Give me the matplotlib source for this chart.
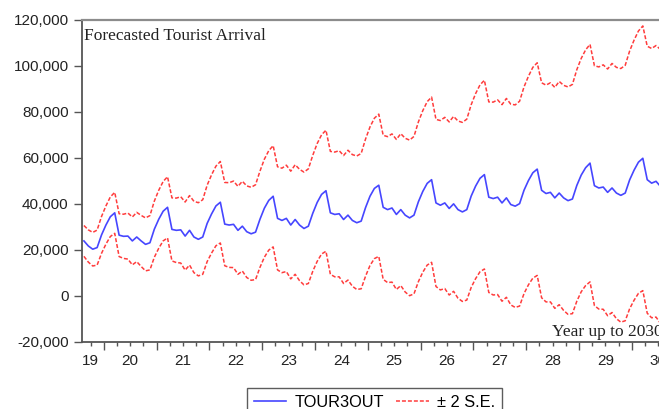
import matplotlib
matplotlib.use("Agg")
import matplotlib.pyplot as plt
from matplotlib.ticker import FuncFormatter, FixedLocator
import numpy as np
import pandas as pd

# Monthly forecast of tourist arrivals (thousands), 2019M08 - 2030M08
tour3out = [
    23.8, 21.6, 20.2, 20.9, 26.4,
    30.7, 34.3, 36.0, 26.3, 25.8, 25.9, 23.8, 25.5, 23.8, 22.3, 23.0, 28.9,
    33.2, 36.7, 38.4, 28.8, 28.4, 28.6, 25.9, 28.4, 25.5, 24.5, 25.5, 31.4,
    35.5, 39.0, 40.6, 31.1, 30.7, 31.0, 28.4, 30.2, 27.8, 26.9, 27.6, 33.2,
    38.0, 41.4, 43.2, 33.6, 32.7, 33.6, 30.7, 33.1, 30.7, 29.2, 30.2, 35.8,
    40.5, 44.0, 45.6, 36.0, 35.3, 35.6, 33.1, 35.0, 32.7, 31.7, 32.4, 38.3,
    43.2, 46.6, 48.0, 38.4, 37.4, 38.1, 35.3, 37.4, 35.0, 33.8, 35.0, 40.8,
    45.3, 48.8, 50.4, 40.3, 39.3, 40.3, 37.9, 39.9, 37.4, 36.4, 37.4, 43.3,
    47.6, 51.0, 52.6, 42.8, 42.2, 42.8, 40.3, 42.5, 39.6, 38.9, 40.0, 45.8,
    50.0, 53.4, 55.0, 45.8, 44.4, 44.9, 42.5, 44.6, 42.5, 41.3, 42.0, 47.9,
    52.4, 55.6, 57.6, 47.8, 46.8, 47.2, 44.9, 46.8, 44.6, 43.6, 44.6, 50.3,
    54.5, 58.0, 59.7, 50.4, 48.9, 49.7, 47.5, 49.2,
]

# two standard errors of the forecast (thousands)
two_se = [
    6.7, 7.0, 7.3, 7.6, 8.0,
    8.3, 8.6, 8.9, 9.3, 9.6, 10.0, 10.4, 10.7, 11.1, 11.5, 11.8, 12.2,
    12.6, 12.9, 13.3, 13.7, 14.0, 14.4, 14.8, 15.1, 15.5, 15.9, 16.2, 16.6,
    17.0, 17.3, 17.7, 18.1, 18.4, 18.8, 19.1, 19.5, 19.9, 20.2, 20.6, 20.9,
    21.3, 21.6, 22.0, 22.4, 22.7, 23.1, 23.4, 23.8, 24.2, 24.5, 24.9, 25.2,
    25.6, 25.9, 26.3, 26.7, 27.1, 27.4, 27.8, 28.2, 28.6, 29.0, 29.4, 29.8,
    30.1, 30.5, 30.9, 31.3, 31.7, 32.2, 32.6, 33.0, 33.4, 33.8, 34.2, 34.7,
    35.1, 35.5, 35.9, 36.3, 36.8, 37.2, 37.6, 38.0, 38.5, 38.9, 39.3, 39.7,
    40.2, 40.6, 41.0, 41.4, 41.9, 42.3, 42.7, 43.2, 43.6, 44.0, 44.5, 44.9,
    45.3, 45.8, 46.2, 46.7, 47.1, 47.6, 48.0, 48.5, 48.9, 49.4, 49.8, 50.3,
    50.7, 51.2, 51.6, 52.1, 52.6, 53.1, 53.6, 54.1, 54.6, 55.1, 55.5, 56.0,
    56.5, 57.0, 57.5, 58.0, 58.5, 59.0, 59.5, 60.0,
]

year_labels = ["19", "20", "21", "22", "23", "24", "25", "26", "27", "28", "29", "30"]

periods = pd.period_range("2019-08", periods=len(tour3out), freq="M")
t = periods.year + (periods.month - 0.5) / 12.0
fc = np.array(tour3out) * 1000
se = np.array(two_se) * 1000

plt.rcParams["font.family"] = ["Liberation Sans", "DejaVu Sans"]

fig = plt.figure(figsize=(6.59, 4.09), dpi=100)
ax = fig.add_axes([0.124, 0.1645, 0.9149, 0.7878])

blue = "#4646ff"
red = "#ff3c3c"
l1, = ax.plot(t, fc, color=blue, lw=1.2)
l2, = ax.plot(t, fc + se, color=red, lw=1.1, dashes=(2.6, 1.3))
ax.plot(t, fc - se, color=red, lw=1.1, dashes=(2.6, 1.3))

ax.set_xlim(2019 + 7 / 12, 2031)
ax.set_ylim(-20000, 120000)
ax.set_yticks(np.arange(-20000, 120001, 20000))
ax.yaxis.set_major_formatter(FuncFormatter(lambda v, p: f"{v:,.0f}"))

# year boundaries as long ticks, quarters as short ones
ax.xaxis.set_major_locator(FixedLocator(np.arange(2020, 2031)))
ax.xaxis.set_minor_locator(FixedLocator(np.arange(2019.75, 2031, 0.25)))
ax.set_xticklabels([])
ax.tick_params(axis="x", which="major", length=5.5, width=1, color="#555555")
ax.tick_params(axis="x", which="minor", length=3, width=1, color="#555555")
ax.tick_params(axis="y", length=6, width=1, color="#555555", labelsize=11, pad=3.5,
               labelcolor="#222222")

label_x = [2019.74] + [y + 0.5 for y in range(2020, 2031)]
for lx, lab in zip(label_x, year_labels):
    ax.text(lx, -0.037, lab, transform=ax.get_xaxis_transform(), ha="center",
            va="top", fontsize=11, color="#222222", clip_on=False)

for side in ["left", "bottom"]:
    ax.spines[side].set_color("#555555")
    ax.spines[side].set_linewidth(1.3)
ax.spines["top"].set_color("#8c8c8c")
ax.spines["top"].set_linewidth(1.6)
ax.spines["right"].set_visible(False)

ax.text(0.004, 0.949, "Forecasted Tourist Arrival", transform=ax.transAxes,
        family="Liberation Serif", fontsize=12.5, va="center", ha="left", color="#222222")
ax.text(0.780, 0.030, "Year up to 2030", transform=ax.transAxes,
        family="Liberation Serif", fontsize=12.5, va="center", ha="left", color="#222222")

leg = fig.legend([l1, l2], ["TOUR3OUT", "\u00b1 2 S.E."], loc="upper center",
                 bbox_to_anchor=(0.5683, 0.0506), ncol=2, frameon=True, fancybox=False,
                 fontsize=11.8, handlelength=2.0, handletextpad=0.5,
                 columnspacing=0.75, borderpad=0.4, borderaxespad=0)
leg.get_frame().set_edgecolor("#333333")
leg.get_frame().set_linewidth(1.0)

fig.savefig("out.png", dpi=100)
